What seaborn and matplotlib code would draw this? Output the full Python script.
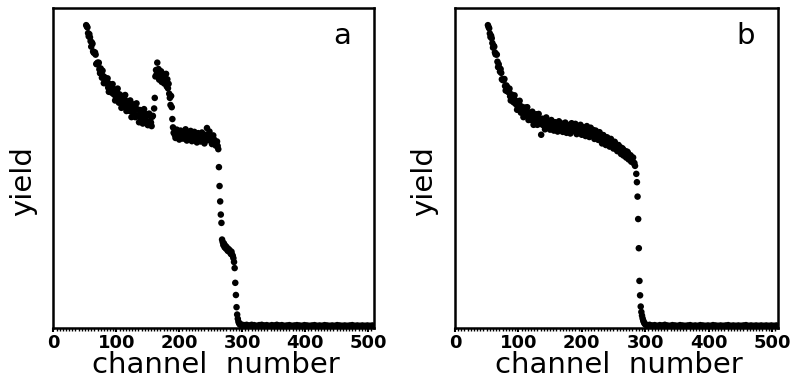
import numpy as np
import pandas as pd
import matplotlib
matplotlib.use("Agg")
import matplotlib.pyplot as plt
from matplotlib.ticker import MultipleLocator
import seaborn as sns

# ---------------- data (channel number vs. yield, arbitrary units) ----------------
# panel a
a_band1_ch = list(range(52, 160, 2))
a_band1_y = [94.5, 93.8, 91.0, 90.7, 87.8, 88.7, 85.9, 86.0, 82.4, 82.8, 82.8, 79.5,
             79.4, 80.3, 76.4, 78.0, 76.4, 77.9, 73.7, 75.5, 73.5, 76.1, 73.0, 71.0,
             73.8, 74.7, 70.3, 72.1, 68.7, 72.4, 70.1, 72.7, 67.7, 70.2, 67.8, 71.0,
             65.8, 68.3, 69.8, 65.8, 70.1, 66.2, 64.2, 68.0, 66.6, 63.8, 68.3, 64.2,
             66.4, 63.3, 66.9, 64.3, 63.0, 66.2]
a_band1_odd_ch = list(range(53, 159, 2))
a_band1_odd_y = [94.1, 92.0, 91.7, 89.5, 89.1, 86.3, 85.9, 85.3, 82.3, 82.4,
                 80.7, 81.0, 78.1, 78.6, 78.3, 76.4, 76.9, 75.0, 76.2, 74.1,
                 75.2, 73.1, 74.4, 72.1, 73.5, 71.6, 72.9, 70.5, 71.9, 69.8,
                 71.4, 69.0, 70.7, 68.4, 69.9, 67.6, 69.3, 67.2, 68.9, 66.4,
                 68.3, 66.0, 67.8, 65.6, 67.2, 65.1, 66.9, 64.7, 66.5, 64.4,
                 66.2, 64.1, 65.9]
a_peak_ch = list(range(160, 190))
a_peak_y = [68.5, 71.8, 78.5, 80.5, 79.2, 82.8, 78.9, 80.8, 77.5, 79.9, 78.2, 80.1,
            76.8, 79.4, 77.2, 78.8, 76.3, 78.1, 77.0, 79.3, 75.4, 77.6, 74.8, 76.2,
            73.1, 71.8, 69.6, 72.4, 68.9, 65.2]
a_band2_ch = list(range(190, 264, 2))
a_band2_y = [62.6, 61.0, 59.3, 61.9, 60.4, 58.8, 61.6, 60.9, 59.1, 60.2, 62.0, 58.5,
             60.7, 59.6, 61.5, 58.3, 59.9, 61.2, 60.1, 57.9, 60.8, 59.4, 58.2, 61.0,
             59.7, 57.6, 60.3, 62.4, 58.6, 61.3, 59.0, 57.4, 60.1, 58.5, 56.9, 58.2,
             55.8]
a_band2_odd_ch = list(range(191, 263, 2))
a_band2_odd_y = [60.9, 60.2, 61.1, 59.8, 60.7, 60.0, 61.0, 59.6, 60.5, 59.9,
                 60.8, 59.5, 60.3, 59.8, 60.6, 59.3, 60.1, 59.7, 60.4, 59.1,
                 59.9, 59.4, 60.2, 58.9, 59.7, 59.2, 60.0, 59.0, 59.6, 58.7,
                 59.3, 58.4, 58.9, 57.9, 57.6, 56.8]
a_edge_ch = list(range(263, 298))
a_edge_y = [50.2, 44.3, 39.5, 35.4, 32.8, 27.6, 26.8, 25.9, 26.4, 25.2, 25.7, 24.8,
            25.3, 24.6, 24.1, 24.7, 23.9, 24.3, 23.6, 23.1, 23.8, 22.9, 22.5, 21.8,
            20.6, 18.7, 14.1, 10.3, 6.5, 4.2, 2.9, 2.0, 1.5, 1.2, 1.0]
a_base_ch = list(range(299, 509, 4))
a_base_y = [1.1, 0.9, 1.0, 0.8, 1.0, 0.9, 0.7, 0.9, 1.0, 0.8, 0.9, 0.7, 0.9, 0.8,
            1.0, 0.8, 0.9, 0.7, 0.8, 0.9, 0.7, 0.8, 0.9, 0.8, 0.7, 0.9, 0.8, 0.7,
            0.8, 0.9, 0.7, 0.8, 0.7, 0.9, 0.8, 0.7, 0.8, 0.7, 0.9, 0.8, 0.7, 0.8,
            0.7, 0.8, 0.9, 0.7, 0.8, 0.7, 0.8, 0.7, 0.8, 0.7, 0.8]

# panel b
b_band_ch = list(range(52, 286, 2))
b_band_y = [94.5, 93.5, 90.8, 90.4, 87.5, 87.8, 85.4, 85.3, 81.4, 81.2, 80.8, 77.6,
            77.3, 77.7, 74.1, 75.3, 73.7, 74.7, 71.0, 72.3, 70.5, 72.6, 69.9, 68.1,
            70.2, 70.9, 67.2, 68.6, 65.8, 68.8, 66.9, 68.9, 64.9, 67.0, 64.9, 67.5,
            63.4, 65.4, 66.7, 63.4, 66.8, 63.7, 60.3, 65.3, 64.2, 62.0, 65.7, 62.6,
            64.4, 61.9, 64.9, 62.8, 61.6, 64.2, 62.9, 61.3, 64.5, 62.1, 63.8, 61.2,
            62.4, 64.1, 60.9, 63.3, 62.8, 60.7, 63.9, 61.5, 62.2, 63.7, 60.5, 62.9,
            61.0, 63.4, 60.3, 62.6, 61.8, 59.9, 63.0, 61.1, 59.6, 62.5, 60.4, 61.8,
            59.0, 61.6, 60.2, 58.7, 61.1, 59.4, 57.6, 60.2, 58.8, 57.1, 59.5, 57.9,
            56.6, 59.0, 57.3, 56.0, 58.1, 56.4, 55.2, 57.1, 55.0, 54.3, 56.1, 53.8,
            54.9, 53.2, 55.0, 52.6, 53.7, 51.9, 53.1, 51.4, 50.6]
b_band_odd_ch = list(range(53, 285, 2))
b_band_odd_y = [93.9, 91.9, 91.2, 88.9, 88.1, 86.0, 85.5, 83.1, 82.3, 80.0,
                79.6, 77.5, 77.4, 75.5, 75.7, 73.8, 74.1, 72.3, 72.9, 71.1,
                71.8, 70.1, 70.8, 69.0, 69.9, 68.1, 69.1, 67.3, 68.4, 66.6,
                67.8, 66.0, 67.2, 65.4, 66.6, 64.9, 66.2, 64.5, 65.8, 64.0,
                65.4, 63.7, 65.0, 63.3, 64.8, 63.1, 64.6, 62.9, 64.4, 62.7,
                64.2, 62.5, 64.0, 62.4, 63.9, 62.2, 63.7, 62.1, 63.6, 62.0,
                63.5, 61.9, 63.4, 61.8, 63.3, 61.7, 63.2, 61.5, 63.0, 61.4,
                62.9, 61.2, 62.7, 61.1, 62.6, 60.9, 62.4, 60.7, 62.2, 60.5,
                61.9, 60.2, 61.6, 59.9, 61.3, 59.6, 60.9, 59.2, 60.5, 58.8,
                60.1, 58.3, 59.6, 57.8, 59.1, 57.3, 58.6, 56.8, 58.1, 56.3,
                57.5, 55.8, 57.0, 55.2, 56.4, 54.6, 55.8, 54.0, 55.2, 53.4,
                54.6, 52.8, 53.9, 52.1, 53.2, 51.5]
b_edge_ch = list(range(286, 302))
b_edge_y = [48.1, 45.5, 41.0, 34.0, 24.9, 14.7, 10.2, 6.7, 5.0, 3.9, 3.0, 2.3,
            1.8, 1.4, 1.2, 1.0]
b_base_ch = list(range(303, 509, 4))
b_base_y = [0.9, 1.0, 0.8, 0.9, 0.7, 0.9, 0.8, 1.0, 0.8, 0.7, 0.9, 0.8, 0.7, 0.9,
            0.8, 0.7, 0.8, 0.9, 0.7, 0.8, 0.7, 0.9, 0.8, 0.7, 0.8, 0.7, 0.9, 0.8,
            0.7, 0.8, 0.7, 0.8, 0.9, 0.7, 0.8, 0.7, 0.8, 0.7, 0.8, 0.9, 0.7, 0.8,
            0.7, 0.8, 0.7, 0.8, 0.7, 0.8, 0.7, 0.8, 0.7, 0.8]

x_ticks = [0, 100, 200, 300, 400, 500]
panel_labels = ["a", "b"]

segments_a = [(a_band1_ch, a_band1_y), (a_band1_odd_ch, a_band1_odd_y),
              (a_peak_ch, a_peak_y), (a_band2_ch, a_band2_y),
              (a_band2_odd_ch, a_band2_odd_y), (a_edge_ch, a_edge_y),
              (a_base_ch, a_base_y)]
segments_b = [(b_band_ch, b_band_y), (b_band_odd_ch, b_band_odd_y),
              (b_edge_ch, b_edge_y), (b_base_ch, b_base_y)]
for c, v in segments_a + segments_b:
    assert len(c) == len(v), (c[0], len(c), len(v))


def to_frame(segs):
    ch, yv = [], []
    for c, v in segs:
        ch += c
        yv += v
    return pd.DataFrame({"channel": ch, "yield": yv})


df_a = to_frame(segments_a)
df_b = to_frame(segments_b)

# ---------------- figure ----------------
sns.set_theme(style="white")
plt.rcParams["font.family"] = ["DejaVu Sans"]
plt.rcParams["text.color"] = "black"
plt.rcParams["axes.labelcolor"] = "black"
plt.rcParams["xtick.color"] = "black"

fig = plt.figure(figsize=(7.9, 3.84), dpi=100)
ax_a = fig.add_axes([0.0677, 0.1458, 0.4057, 0.8346])
ax_b = fig.add_axes([0.5759, 0.1458, 0.4089, 0.8346])

for ax, df, lab in [(ax_a, df_a, panel_labels[0]), (ax_b, df_b, panel_labels[1])]:
    sns.scatterplot(data=df, x="channel", y="yield", ax=ax, color="black",
                    s=22, linewidth=0, edgecolor="none", legend=False)
    ax.set_xlim(0, 509.5)
    ax.set_ylim(0, 100)
    ax.set_xticks(x_ticks)
    ax.set_xticklabels([str(t) for t in x_ticks], fontsize=13, fontweight="bold",
                       color="black")
    ax.xaxis.set_minor_locator(MultipleLocator(5))
    ax.tick_params(axis="x", which="major", direction="out", length=3, width=1.5,
                   pad=1.5, color="black", bottom=True)
    ax.tick_params(axis="x", which="minor", direction="out", length=2, width=1,
                   color="black", bottom=True)
    ax.set_yticks([])
    for sp in ax.spines.values():
        sp.set_visible(True)
        sp.set_color("black")
        sp.set_linewidth(1.8)
    ax.set_xlabel("channel  number", fontsize=21, color="black")
    ax.set_ylabel("yield", fontsize=21, color="black")
    ax.xaxis.set_label_coords(0.507, -0.072)
    ax.yaxis.set_label_coords(-0.052, 0.46)
    ax.text(0.90, 0.91, lab, transform=ax.transAxes, fontsize=21,
            ha="center", va="center", color="black")
    ax.set_facecolor("white")

fig.patch.set_facecolor("white")
fig.savefig("out.png", dpi=100)
